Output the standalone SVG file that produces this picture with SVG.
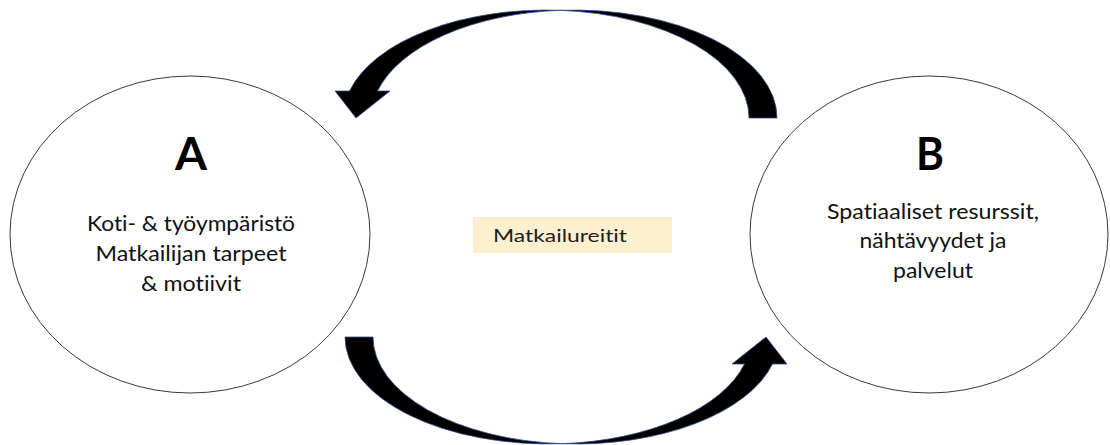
<svg xmlns="http://www.w3.org/2000/svg" width="1110" height="445" viewBox="0 0 1110 445">
  <style>
    text { font-family: Lato, "Liberation Sans", sans-serif; font-variant-ligatures: none; text-anchor: middle; }
    .node { fill: #ffffff; stroke: #3a3a3a; stroke-width: 1; }
    .title { font-weight: bold; font-size: 46px; fill: #000; }
    .body { font-size: 21px; fill: #111; }
    .label { font-size: 18px; fill: #222; }
    .arrow { fill: #000; stroke: #2f4f8f; stroke-width: 0.8; stroke-linejoin: miter; }
  </style>

  <rect width="1110" height="445" fill="#ffffff"/>

  <!-- Curved block arrows. Each band is cut from two equal ellipses offset
       horizontally by the band width; they cross at the apex, which is why
       the band thins to a point there. -->
  <g id="connectors">
    <!-- upper arrow, B back to A: ellipses centred (546,118) and (574,118), rx 203, ry 108 -->
    <path class="arrow" d="M777,118
             A203,108 0 0 0 560,10.3
             A203,108 0 0 0 349.5,91
             L335,91 L356,118 L390,91 L377.5,91
             A203,108 0 0 1 560,10.3
             A203,108 0 0 1 749,118 Z"/>
    <!-- lower arrow, A to B: ellipses centred (548,337) and (576,337), rx 203, ry 107 -->
    <path class="arrow" d="M345,337
             A203,107 0 0 0 562,443.7
             A203,107 0 0 0 772.5,364
             L787,364 L766,337 L732,364 L744.5,364
             A203,107 0 0 1 562,443.7
             A203,107 0 0 1 373,337 Z"/>
  </g>

  <g id="node-a">
    <ellipse class="node" cx="190" cy="234.5" rx="180" ry="158.5"/>
    <text class="title" x="191" y="170" textLength="32" lengthAdjust="spacingAndGlyphs">A</text>
    <text class="body" x="191" y="231" textLength="208" lengthAdjust="spacingAndGlyphs">Koti- &amp; työympäristö</text>
    <text class="body" x="191" y="261" textLength="191" lengthAdjust="spacingAndGlyphs">Matkailijan tarpeet</text>
    <text class="body" x="191" y="291" textLength="100" lengthAdjust="spacingAndGlyphs">&amp; motiivit</text>
  </g>

  <g id="node-b">
    <ellipse class="node" cx="929" cy="234.5" rx="179" ry="158.5"/>
    <text class="title" x="930" y="170" textLength="28" lengthAdjust="spacingAndGlyphs">B</text>
    <text class="body" x="933" y="219" textLength="212" lengthAdjust="spacingAndGlyphs">Spatiaaliset resurssit,</text>
    <text class="body" x="933" y="248" textLength="147" lengthAdjust="spacingAndGlyphs">nähtävyydet ja</text>
    <text class="body" x="933" y="278" textLength="80" lengthAdjust="spacingAndGlyphs">palvelut</text>
  </g>

  <g id="route-label">
    <rect x="473" y="217" width="199" height="36" fill="#fdf0cf"/>
    <text class="label" x="560" y="242" textLength="134" lengthAdjust="spacingAndGlyphs">Matkailureitit</text>
  </g>
</svg>
